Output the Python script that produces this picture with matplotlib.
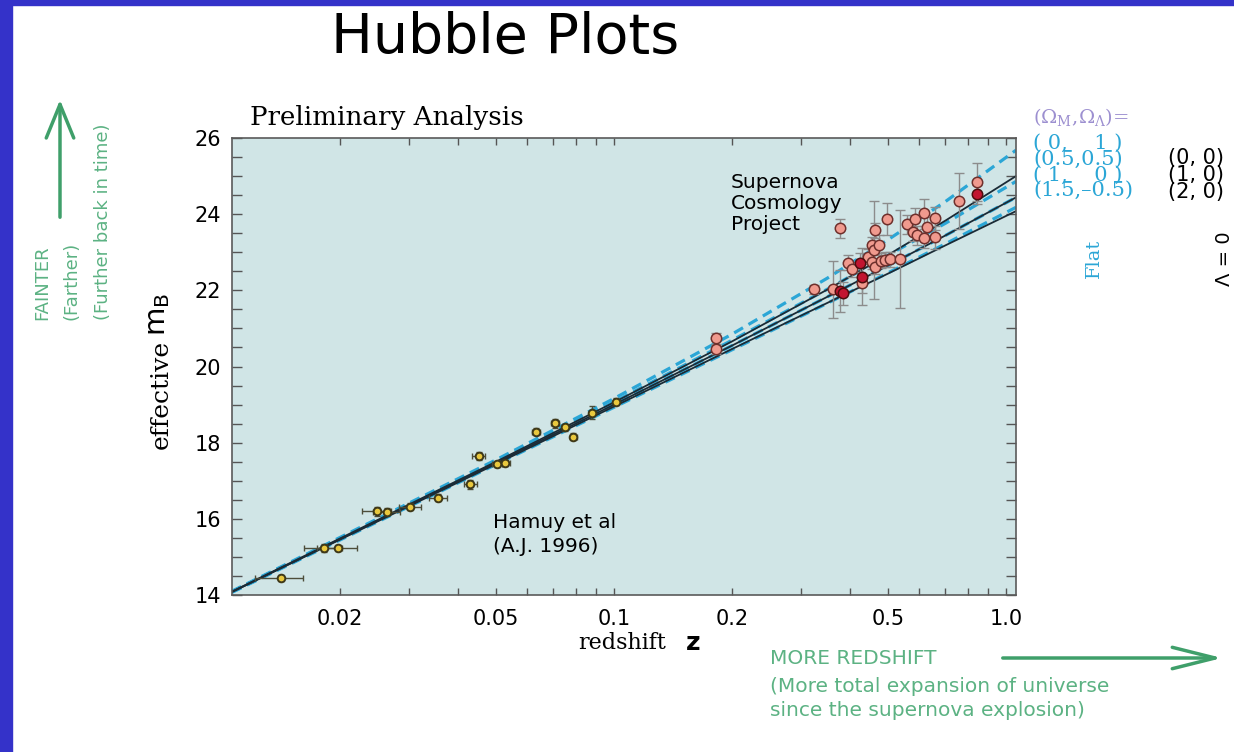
import matplotlib.pyplot as plt
from matplotlib.patches import Rectangle, FancyArrowPatch
from matplotlib.ticker import FixedLocator, FixedFormatter, NullFormatter

W, H = 1234, 752

# Calan/Tololo nearby supernovae: redshift, effective B magnitude, errors
hamuy_z = [0.0141, 0.0182, 0.0198, 0.0248, 0.0263, 0.0302, 0.0356, 0.0430, 0.0451,
           0.0504, 0.0527, 0.0632, 0.0707, 0.0750, 0.0787, 0.0877, 0.1012]
hamuy_m = [14.45, 15.23, 15.23, 16.20, 16.19, 16.32, 16.56, 16.91, 17.65,
           17.43, 17.47, 18.29, 18.51, 18.40, 18.16, 18.79, 19.08]
hamuy_zerr = [0.0020, 0.0020, 0.0023, 0.0021, 0.0021, 0.0020, 0.0019, 0.0017, 0.0017,
              0.0015, 0.0015, 0.0015, 0.0015, 0.0015, 0.0015, 0.0015, 0.0015]
hamuy_merr = [0.08, 0.10, 0.08, 0.12, 0.10, 0.10, 0.10, 0.12, 0.10,
              0.08, 0.08, 0.10, 0.12, 0.10, 0.10, 0.17, 0.08]

# Supernova Cosmology Project high-redshift sample
scp_z = [0.182, 0.182, 0.324, 0.362, 0.377, 0.383, 0.376, 0.396, 0.404, 0.424,
         0.428, 0.430, 0.445, 0.454, 0.463, 0.461, 0.454, 0.463, 0.475, 0.480,
         0.496, 0.491, 0.506, 0.537, 0.558, 0.586, 0.580, 0.592, 0.618, 0.628,
         0.618, 0.659, 0.659, 0.760, 0.842, 0.842]
scp_m = [20.74, 20.45, 22.03, 22.03, 21.98, 21.92, 23.63, 22.73, 22.55, 22.73,
         22.36, 22.18, 22.88, 23.19, 23.58, 23.06, 22.75, 22.62, 23.19, 22.78,
         23.87, 22.80, 22.81, 22.82, 23.73, 23.87, 23.54, 23.45, 24.04, 23.67,
         23.37, 23.89, 23.39, 24.35, 24.85, 24.52]
scp_merr = [0.15, 0.12, 0.12, 0.75, 0.55, 0.30, 0.25, 0.20, 0.20, 0.25,
            0.75, 0.25, 0.20, 0.20, 0.20, 1.28, 0.20, 0.20, 0.25, 0.20,
            0.42, 0.20, 0.20, 1.28, 0.25, 0.30, 0.25, 0.25, 0.35, 0.25,
            0.25, 0.30, 0.30, 0.73, 0.50, 0.25]
scp_red = [False, False, False, False, True, True, False, False, False, True,
           True, False, False, False, False, False, False, False, False, False,
           False, False, False, False, False, False, False, False, False, False,
           False, False, False, False, False, True]

# model curves, effective m_B at these redshifts
model_z = [0.0106, 0.05, 0.1, 0.2, 0.35, 0.5, 0.7, 1.06]
m_flat_0_1 = [14.10, 17.55, 19.16, 20.85, 22.32, 23.33, 24.33, 25.68]
m_flat_05_05 = [14.09, 17.51, 19.07, 20.69, 22.03, 22.92, 23.76, 24.86]
m_flat_1_0 = [14.08, 17.47, 19.00, 20.55, 21.83, 22.65, 23.44, 24.44]
m_flat_15_m05 = [14.07, 17.43, 18.93, 20.44, 21.66, 22.46, 23.22, 24.18]
m_open_0_0 = [14.09, 17.50, 19.06, 20.66, 22.02, 22.93, 23.83, 25.00]
m_open_2_0 = [14.08, 17.44, 18.95, 20.46, 21.67, 22.44, 23.18, 24.08]

x_ticks = [0.02, 0.03, 0.04, 0.05, 0.06, 0.07, 0.08, 0.09,
           0.1, 0.2, 0.3, 0.4, 0.5, 0.6, 0.7, 0.8, 0.9, 1.0]
x_labels = {0.02: '0.02', 0.05: '0.05', 0.1: '0.1', 0.2: '0.2', 0.5: '0.5', 1.0: '1.0'}
y_ticks = [14, 16, 18, 20, 22, 24, 26]

flat_keys = ['( 0,    1 )', '(0.5,0.5)', '( 1,    0 )', '(1.5,\u20130.5)']
open_keys = ['(0, 0)', '(1, 0)', '(2, 0)']

BLUE = '#3432c9'
GREEN = '#3f9f6a'
GREEN_TXT = '#5cb283'
CYAN = '#2ba6d6'
LAVENDER = '#9c8fd0'
DARK = '#1b2b36'
SANS = 'DejaVu Sans'
SERIF = 'DejaVu Serif'


def fx(x):
    return x / W


def fy(y):
    return 1 - y / H


def ftext(x, y, s, **kw):
    return fig.text(fx(x), fy(y), s, **kw)


def farrow(p0, p1, style):
    fig.patches.append(FancyArrowPatch(
        (fx(p0[0]), fy(p0[1])), (fx(p1[0]), fy(p1[1])), transform=fig.transFigure,
        arrowstyle=style, mutation_scale=22, color=GREEN, lw=2.5))


fig = plt.figure(figsize=(W / 100, H / 100), dpi=100)
fig.patch.set_facecolor('white')

# blue slide border
fig.patches.append(Rectangle((0, 0), fx(12), 1, transform=fig.transFigure,
                             color=BLUE, zorder=0))
fig.patches.append(Rectangle((0, fy(5)), 1, 5 / H, transform=fig.transFigure,
                             color=BLUE, zorder=0))

ax = fig.add_axes([fx(232), fy(595), 784 / W, 457 / H])
ax.set_facecolor('#d0e5e6')
ax.set_xscale('log')
ax.set_xlim(0.0106, 1.06)
ax.set_ylim(14, 26)

# flat-universe models (dashed) and Lambda = 0 models (solid)
for m in [m_flat_0_1, m_flat_05_05, m_flat_1_0, m_flat_15_m05]:
    ax.plot(model_z, m, color=CYAN, lw=2.3, dashes=(3.2, 2.0),
            dash_capstyle='butt', zorder=2)
for m in [m_open_0_0, m_flat_1_0, m_open_2_0]:
    ax.plot(model_z, m, color=DARK, lw=1.3, zorder=2.5)

ax.errorbar(hamuy_z, hamuy_m, xerr=hamuy_zerr, yerr=hamuy_merr, fmt='none',
            ecolor='#4d4d3a', elinewidth=1.0, capsize=2.5, capthick=1.0, zorder=3)
ax.plot(hamuy_z, hamuy_m, 'o', ms=5.5, mfc='#e9c83e', mec='#3e3818', mew=1.4,
        zorder=4)

ax.errorbar(scp_z, scp_m, yerr=scp_merr, fmt='none', ecolor='#8c8c8c',
            elinewidth=1.0, capsize=3.5, capthick=1.0, zorder=3)
pink_z = [z for z, r in zip(scp_z, scp_red) if not r]
pink_m = [m for m, r in zip(scp_m, scp_red) if not r]
red_z = [z for z, r in zip(scp_z, scp_red) if r]
red_m = [m for m, r in zip(scp_m, scp_red) if r]
ax.plot(pink_z, pink_m, 'o', ms=7.5, mfc='#f09a8e', mec='#6e302c', mew=1.1, zorder=4)
ax.plot(red_z, red_m, 'o', ms=7.5, mfc='#c21530', mec='#4e0d0d', mew=1.1, zorder=4.5)

# axes styling: inward ticks on every side
ax.xaxis.set_major_locator(FixedLocator(x_ticks))
ax.xaxis.set_major_formatter(FixedFormatter([x_labels.get(t, '') for t in x_ticks]))
ax.xaxis.set_minor_formatter(NullFormatter())
ax.xaxis.set_minor_locator(FixedLocator([]))
ax.yaxis.set_major_locator(FixedLocator(y_ticks))
ax.yaxis.set_minor_locator(FixedLocator([v / 2 for v in range(28, 53)]))
ax.tick_params(which='both', direction='in', top=True, right=True,
               colors='#555555', labelcolor='black', width=1.0)
ax.tick_params(axis='x', which='major', length=5, pad=10, labelsize=15)
ax.tick_params(axis='y', which='both', length=7, pad=8, labelsize=15)
for lab in ax.get_xticklabels() + ax.get_yticklabels():
    lab.set_family(SANS)
for sp in ax.spines.values():
    sp.set_color('#5a5a5a')
    sp.set_linewidth(1.2)

# text around the plot
ftext(505, 38, 'Hubble Plots', family=SANS, fontsize=40, ha='center', va='center')
ftext(250, 118, 'Preliminary Analysis', family=SERIF, fontsize=18.8, ha='left',
      va='center')
ftext(731, 183, 'Supernova', family=SANS, fontsize=14.5, va='center')
ftext(731, 204, 'Cosmology', family=SANS, fontsize=14.5, va='center')
ftext(731, 225, 'Project', family=SANS, fontsize=14.5, va='center')
ftext(493, 523, 'Hamuy et al', family=SANS, fontsize=14.5, va='center')
ftext(493, 546, '(A.J. 1996)', family=SANS, fontsize=14.5, va='center')

ftext(161, 394, 'effective', family=SERIF, fontsize=18, rotation=90,
      ha='center', va='center')
ftext(158, 314, r'm$_\mathregular{B}$', family=SANS, fontsize=21, rotation=90,
      ha='center', va='center')
ftext(578, 643, 'redshift', family=SERIF, fontsize=16, ha='left', va='center')
ftext(686, 643, 'z', family=SANS, fontsize=18, fontweight='bold', ha='left',
      va='center')

# cosmological parameter key
ftext(1033, 117, r'$(\Omega_{\rm M},\!\Omega_\Lambda)$=', color=LAVENDER,
      fontsize=14, math_fontfamily='dejavuserif', family=SERIF, va='center')
ftext(1033, 167, '\n'.join(flat_keys), color=CYAN, family=SERIF, fontsize=15,
      linespacing=0.78, va='center', ha='left')
ftext(1168, 175, '\n'.join(open_keys), color='black', family=SANS, fontsize=15,
      linespacing=0.8, va='center', ha='left')
ftext(1094, 258, 'Flat', color=CYAN, family=SERIF, fontsize=14, rotation=90,
      ha='center', va='center')
ftext(1224, 259, '\u039b = 0', color='black', family=SANS, fontsize=14, rotation=90,
      ha='center', va='center')

# direction hints
farrow((60, 220), (60, 97), '->,head_length=1.1,head_width=0.45')
for x, s in [(42, 'FAINTER'), (72, '(Farther)'), (103, '(Further back in time)')]:
    ftext(x, 320, s, color=GREEN_TXT, family=SANS, fontsize=13, rotation=90,
          ha='center', va='bottom')

farrow((1000, 658), (1225, 658), '->,head_length=1.4,head_width=0.35')
ftext(770, 658, 'MORE REDSHIFT', color=GREEN_TXT, family=SANS, fontsize=14.5,
      va='center')
ftext(770, 686, '(More total expansion of universe', color=GREEN_TXT, family=SANS,
      fontsize=14.5, va='center')
ftext(770, 711, 'since the supernova explosion)', color=GREEN_TXT, family=SANS,
      fontsize=14.5, va='center')

fig.savefig('out.png', dpi=100)
